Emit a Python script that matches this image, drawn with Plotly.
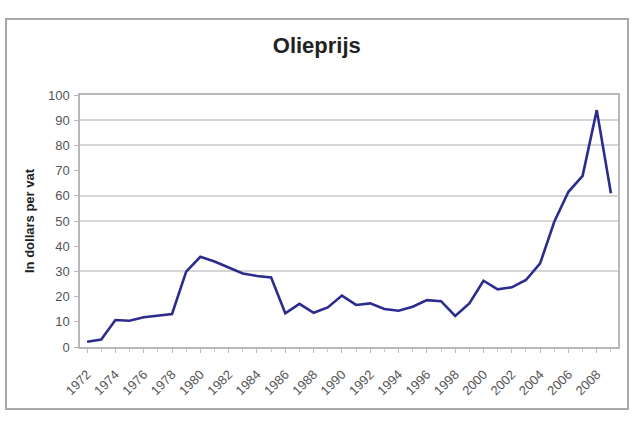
import plotly.graph_objects as go

years = list(range(1972, 2010))
prices = [2.1, 3.0, 10.7, 10.4, 11.8, 12.3, 13.1, 29.9, 35.8, 33.9,
          31.6, 29.2, 28.2, 27.6, 13.4, 17.1, 13.6, 15.7, 20.4, 16.7,
          17.3, 15.1, 14.4, 16.0, 18.6, 18.2, 12.3, 17.3, 26.3, 22.9,
          23.7, 26.6, 33.2, 49.7, 61.6, 67.9, 94.0, 61.0]
y_ticks = [0, 10, 20, 30, 40, 50, 60, 70, 80, 90, 100]
grid_lines = [30, 50, 60, 80, 90, 100]
x_labels = list(range(1972, 2010, 2))

title_text = "Olieprijs"
y_title = "In dollars per vat"

font = "Liberation Sans, Arial, sans-serif"

fig = go.Figure()
# invisible trace for secondary (grid) axis, drawn first
fig.add_trace(go.Scatter(x=[years[0]], y=[0], yaxis="y2", mode="markers",
                         marker=dict(opacity=0), showlegend=False, hoverinfo="skip"))
fig.add_trace(go.Scatter(x=years, y=prices, mode="lines",
                         line=dict(color="#2b2c8e", width=2.6),
                         showlegend=False, hoverinfo="x+y"))

fig.update_layout(
    width=640, height=426,
    margin=dict(l=80, r=22, t=95, b=79),
    paper_bgcolor="white", plot_bgcolor="white",
    font=dict(family=font, color="#333333"),
    title=dict(text="<b>" + title_text + "</b>", x=0.495, xref="container",
               y=1 - 45 / 426, yref="container", yanchor="middle", xanchor="center",
               font=dict(size=22, color="#222222", family=font)),
    xaxis=dict(range=[1971.5, 2009.5], tickvals=x_labels,
               ticktext=[str(v) for v in x_labels],
               tickangle=-45, tickfont=dict(size=13, color="#555555"),
               ticklabelstandoff=9,
               showgrid=False, zeroline=False,
               showline=True, linecolor="#b8b8b8", linewidth=1.5, mirror=True,
               ticks="outside", ticklen=4, tickcolor="#b8b8b8",
               minor=dict(dtick=1, ticks="outside", ticklen=3, tickcolor="#c8c8c8"),
               fixedrange=True),
    yaxis=dict(range=[0, 100], tickvals=y_ticks,
               tickfont=dict(size=13, color="#555555"),
               ticklabelstandoff=2,
               showgrid=False, zeroline=False,
               showline=True, linecolor="#b8b8b8", linewidth=1.5, mirror=True,
               ticks="outside", ticklen=4, tickcolor="#b8b8b8",
               title=dict(text="<b>" + y_title + "</b>",
                          font=dict(size=13, color="#222222", family=font),
                          standoff=10),
               fixedrange=True),
    yaxis2=dict(range=[0, 100], overlaying="y", tickvals=grid_lines,
                showticklabels=False, showgrid=True, gridcolor="#d6d6d6",
                gridwidth=1.6, zeroline=False, showline=False, fixedrange=True),
    shapes=[dict(type="rect", xref="paper", yref="paper",
                 x0=(6 - 80) / 538, x1=(628 - 80) / 538,
                 y0=(347 - 409) / 252, y1=(347 - 19) / 252,
                 line=dict(color="#a8a8a8", width=2), layer="below")],
)

fig.write_html("out.html", config={"displayModeBar": False},
               post_script="document.body.style.margin='0';")
